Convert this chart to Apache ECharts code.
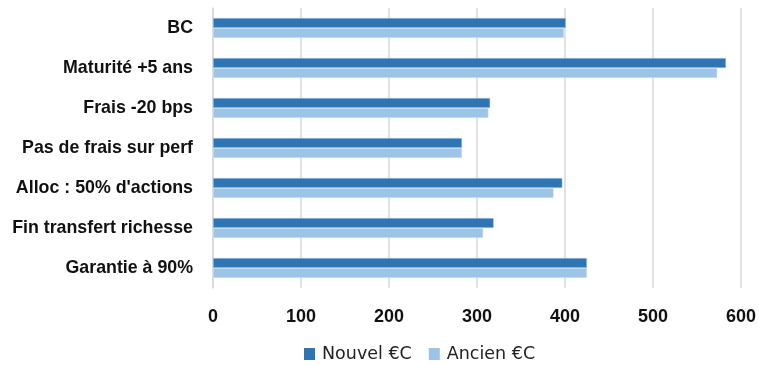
<!DOCTYPE html>
<html><head><meta charset="utf-8">
<script src="https://cdn.jsdelivr.net/npm/echarts@6/dist/echarts.min.js"></script>
<style>html,body{margin:0;padding:0;background:#fff}#c{width:759px;height:365px}</style>
</head><body><div id="c"></div>
<script>
const categories = ["BC","Maturité +5 ans","Frais -20 bps","Pas de frais sur perf","Alloc : 50% d'actions","Fin transfert richesse","Garantie à 90%"];
const nouvel = [401, 583, 315, 283, 397, 319, 425];
const ancien = [399, 573, 313, 283, 387, 307, 425];
const xTicks = [0, 100, 200, 300, 400, 500, 600];

const chart = echarts.init(document.getElementById('c'));
const font = 'Liberation Sans, Arial, sans-serif';
chart.setOption({
  animation: false,
  textStyle: {fontFamily: font},
  grid: {left: 213, right: 18, top: 8, bottom: 77, containLabel: false},
  legend: {
    top: 340, left: 299, itemWidth: 11, itemHeight: 12, itemGap: 17,
    icon: 'rect', padding: [5, 5, 5, 5],
    itemStyle: {borderWidth: 0},
    textStyle: {fontSize: 17.5, color: '#222', fontFamily: 'DejaVu Sans, sans-serif', padding: [0,0,0,2]},
    data: ['Nouvel €C','Ancien €C']
  },
  xAxis: {
    type: 'value', min: xTicks[0], max: xTicks[xTicks.length-1], interval: 100,
    axisLine: {show: false}, axisTick: {show: false},
    splitLine: {lineStyle: {color: '#d9d9d9', width: 1.5}},
    axisLabel: {fontSize: 18, fontWeight: 'bold', color: '#111', margin: 20}
  },
  yAxis: {
    type: 'category', inverse: true, data: categories,
    axisLine: {lineStyle: {color: '#d9d9d9', width: 1.5}}, axisTick: {show: false},
    axisLabel: {fontSize: 17.8, fontWeight: 'bold', color: '#111', margin: 20}
  },
  series: [
    {name: 'Nouvel €C', type: 'bar', data: nouvel, barWidth: 10, barGap: '0%',
     itemStyle: {color: '#2E75B6', borderColor: '#bdd7ee', borderWidth: 0.5}},
    {name: 'Ancien €C', type: 'bar', data: ancien, barWidth: 10, barGap: '0%',
     itemStyle: {color: '#9DC3E6', borderColor: '#deebf7', borderWidth: 0.5}}
  ]
});
</script></body></html>
